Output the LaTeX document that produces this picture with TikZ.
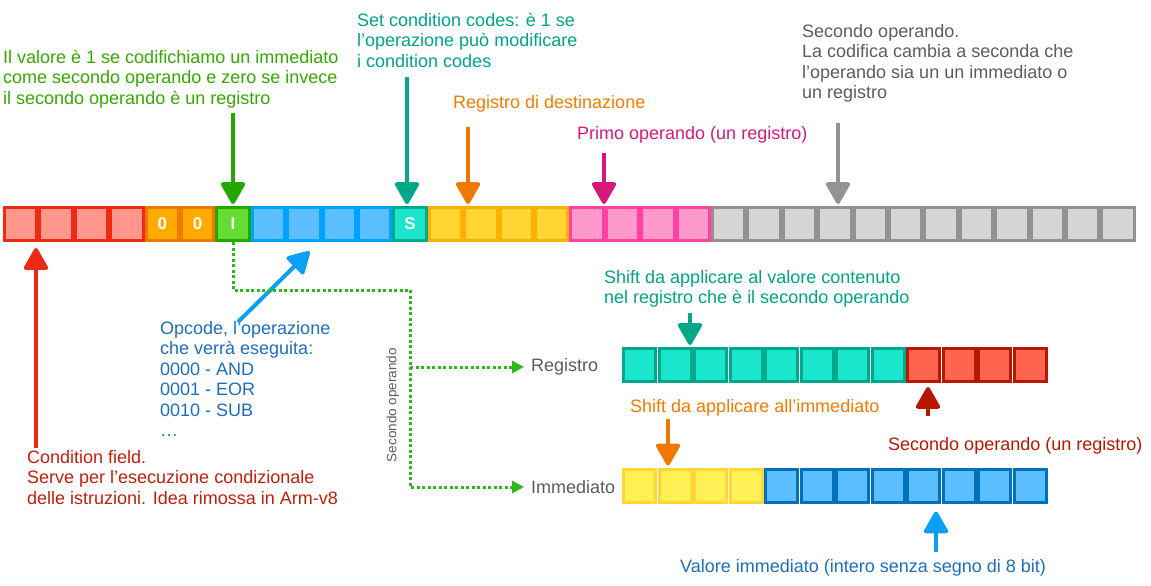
\documentclass[tikz,border=0pt]{standalone}
\usepackage{fontspec}
\setmainfont{Liberation Sans}
\usetikzlibrary{arrows.meta}
\definecolor{CRedEdge}{HTML}{EE2A14}
\definecolor{CRedFill}{HTML}{FF968C}
\definecolor{COrangeEdge}{HTML}{F07800}
\definecolor{COrangeFill}{HTML}{FFAA00}
\definecolor{CGreenEdge}{HTML}{22A800}
\definecolor{CGreenFill}{HTML}{66DD33}
\definecolor{CBlueEdge}{HTML}{00A2FF}
\definecolor{CBlueFill}{HTML}{5BBEFF}
\definecolor{CTealEdge}{HTML}{00A88A}
\definecolor{CTealFill}{HTML}{1AE6CE}
\definecolor{CYellowEdge}{HTML}{FFB000}
\definecolor{CYellowFill}{HTML}{FFD633}
\definecolor{CPinkEdge}{HTML}{FF42A1}
\definecolor{CPinkFill}{HTML}{FF99CC}
\definecolor{CGrayEdge}{HTML}{929292}
\definecolor{CGrayFill}{HTML}{D5D5D5}
\definecolor{CBrickEdge}{HTML}{B81800}
\definecolor{CBrickFill}{HTML}{FF6450}
\definecolor{CLemonEdge}{HTML}{FFD633}
\definecolor{CLemonFill}{HTML}{FFF056}
\definecolor{CNavyEdge}{HTML}{0071BB}
\definecolor{CNavyFill}{HTML}{5BBEFF}
\definecolor{CGreenInk}{HTML}{33AA00}
\definecolor{CTealInk}{HTML}{00A38A}
\definecolor{COrangeInk}{HTML}{F27B00}
\definecolor{CPinkInk}{HTML}{D5197A}
\definecolor{CGreyInk}{HTML}{5C5C5C}
\definecolor{CBlueInk}{HTML}{1A6FBF}
\definecolor{CRedInk}{HTML}{C0200A}
\definecolor{CBrickInk}{HTML}{B81800}
\definecolor{CBlueArrow}{HTML}{0AA0F5}
\definecolor{CRedArrow}{HTML}{EE2A14}
\definecolor{CGreyArrow}{HTML}{939393}
\definecolor{CDot}{HTML}{2DB81E}

\begin{document}
\begin{tikzpicture}[x=1pt, y=-1pt,
  bitcell/.style 2 args={draw=#1, fill=#2, line width=3pt, minimum width=32.4pt, minimum height=33pt, inner sep=0pt},
  bitmark/.style={font=\fontsize{17}{17}\selectfont\bfseries, text=white, inner sep=0pt},
  note/.style={font=\fontsize{18}{20.5}\selectfont, align=left, anchor=north west, inner sep=0pt},
  pointer/.style={line width=4pt, -{Triangle[round, length=24pt, width=26pt]}, shorten >=2pt},
  dotline/.style={CDot, line width=3pt, dash pattern=on 3pt off 2.5pt},
  dottip/.style={-{Triangle[length=12pt, width=12pt]}, shorten >=7pt}]
\useasboundingbox (0,0) rectangle (1151,586);
% instruction word
\foreach \a/\b/\edge/\inner in {1/4/CRedEdge/CRedFill, 5/6/COrangeEdge/COrangeFill, 7/7/CGreenEdge/CGreenFill, 8/11/CBlueEdge/CBlueFill, 12/12/CTealEdge/CTealFill, 13/16/CYellowEdge/CYellowFill, 17/20/CPinkEdge/CPinkFill, 21/32/CGrayEdge/CGrayFill}
  \foreach \i in {\a,...,\b}
    \node[bitcell={\edge}{\inner}] (t\i) at ({3+35.4*(\i-0.5)},224) {};
\node[bitmark] (z5) at (t5) {0};
\node[bitmark] (z6) at (t6) {0};
\node[bitmark] (zI) at (t7) {I};
\node[bitmark] (zS) at (t12) {S};
% second operand encodings
\foreach \i in {1,...,8} \node[bitcell={CTealEdge}{CTealFill}] (r\i) at ({622+35.5*(\i-0.5)},365) {};
\foreach \i in {9,...,12} \node[bitcell={CBrickEdge}{CBrickFill}] (r\i) at ({622+35.5*(\i-0.5)},365) {};
\foreach \i in {1,...,4} \node[bitcell={CLemonEdge}{CLemonFill}] (m\i) at ({622+35.5*(\i-0.5)},485.5) {};
\foreach \i in {5,...,12} \node[bitcell={CNavyEdge}{CNavyFill}] (m\i) at ({622+35.5*(\i-0.5)},485.5) {};
% notes
\node[note, text=CGreenInk] (imnote) at (3,50) {Il valore è 1 se codifichiamo un immediato\\come secondo operando e zero se invece\\il secondo operando è un registro};
\node[note, text=CTealInk] (scnote) at (357,13) {Set condition codes: è 1 se\\l’operazione può modificare\\i condition codes};
\node[note, text=COrangeInk] (rdnote) at (453,95) {Registro di destinazione};
\node[note, text=CPinkInk] (rnnote) at (577,126) {Primo operando (un registro)};
\node[note, text=CGreyInk] (opnote) at (802,24) {Secondo operando.\\La codifica cambia a seconda che\\l’operando sia un un immediato o\\un registro};
\node[note, text=CBlueInk] (opcnote) at (160,321) {Opcode, l’operazione\\che verrà eseguita:\\0000 - AND\\0001 - EOR\\0010 - SUB\\…};
\node[note, text=CRedInk] (cfnote) at (27,450) {Condition field.\\Serve per l’esecuzione condizionale\\delle istruzioni. Idea rimossa in Arm-v8};
\node[note, text=CTealInk] (shrnote) at (604,270) {Shift da applicare al valore contenuto\\nel registro che è il secondo operando};
\node[note, text=COrangeInk] (shinote) at (630,399) {Shift da applicare all’immediato};
\node[note, text=CBrickInk] (rmnote) at (888,437) {Secondo operando (un registro)};
\node[note, text=CBlueInk] (i8note) at (680,559) {Valore immediato (intero senza segno di 8 bit)};
\node[note, anchor=west, text=CGreyInk] (reglbl) at (531,367) {Registro};
\node[note, anchor=west, text=CGreyInk] (immlbl) at (531,487) {Immediato};
\node[font=\fontsize{13.5}{14}\selectfont, text=CGreyInk, rotate=90, inner sep=0pt] (sotag) at (393,405) {Secondo operando};
% pointers to the fields
\coordinate (gA) at (233,113);
\coordinate (sA) at (407,77);
\coordinate (oA) at (468,127);
\coordinate (pA) at (604,153);
\coordinate (yA) at (838,123);
\coordinate (rA) at (36,448);
\coordinate (bA) at (238,322);
\coordinate (bB) at (311,250);
\draw[pointer, CGreenEdge] (gA) -- (gA |- t7.north);
\draw[pointer, CTealEdge] (sA) -- (sA |- t12.north);
\draw[pointer, COrangeEdge] (oA) -- (oA |- t14.north);
\draw[pointer, CPinkInk] (pA) -- (pA |- t18.north);
\draw[pointer, CGreyArrow] (yA) -- (yA |- t24.north);
\draw[pointer, CRedArrow, shorten >=6pt] (rA) -- (rA |- t1.south);
\draw[pointer, CBlueArrow] (bA) -- (bB);
% I bit selects the encoding
\coordinate (fork) at (410,290);
\draw[dotline] (t7.south) |- (fork);
\draw[dotline, dottip] (fork) |- (reglbl.west);
\draw[dotline, dottip] (fork) |- (immlbl.west);
\coordinate (tB) at (690,313);
\coordinate (oB) at (668,419);
\coordinate (kB) at (928,416);
\coordinate (vB) at (936,552);
\draw[pointer, CTealEdge] (tB) -- (tB |- r3.north);
\draw[pointer, COrangeEdge] (oB) -- (oB |- m2.north);
\draw[pointer, CBrickEdge, shorten >=4pt] (kB) -- (kB |- r9.south);
\draw[pointer, CBlueArrow, shorten >=8pt] (vB) -- (vB |- m9.south);
\end{tikzpicture}
\end{document}
